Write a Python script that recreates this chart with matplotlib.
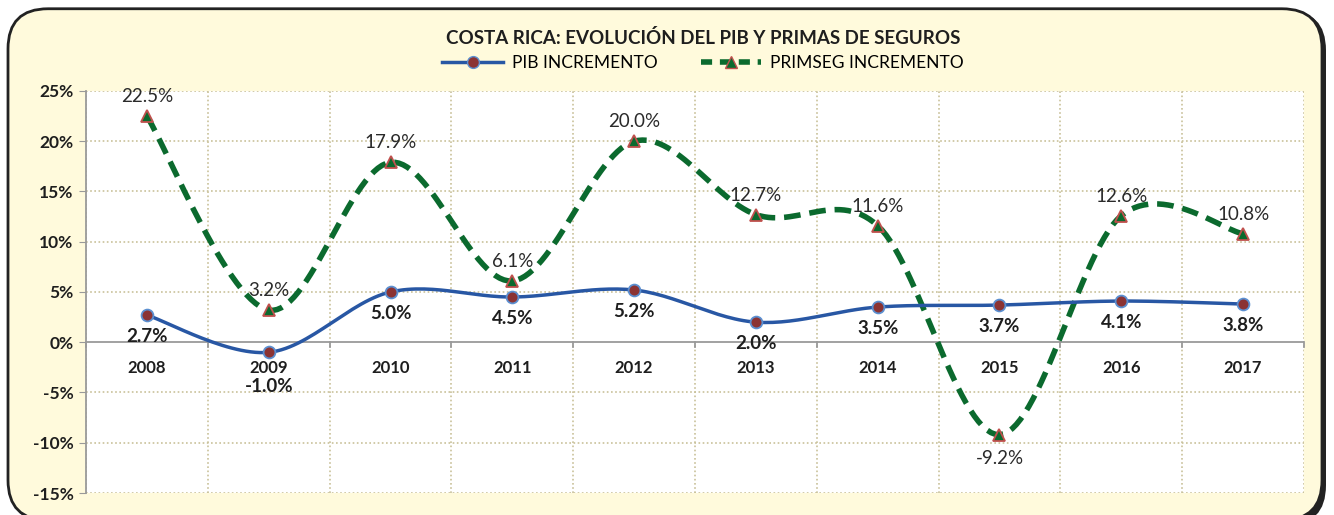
import matplotlib.pyplot as plt
import numpy as np
from matplotlib.patches import FancyBboxPatch
from matplotlib.lines import Line2D

years = ["2008", "2009", "2010", "2011", "2012", "2013", "2014", "2015", "2016", "2017"]
pib = [2.7, -1.0, 5.0, 4.5, 5.2, 2.0, 3.5, 3.7, 4.1, 3.8]
primseg = [22.5, 3.2, 17.9, 6.1, 20.0, 12.7, 11.6, -9.2, 12.6, 10.8]
yticks = [25, 20, 15, 10, 5, 0, -5, -10, -15]

BLUE = "#2857A4"
GREEN = "#0B6A2E"
GRID = "#C9C19A"
BG = "#FFFADC"


def smooth(x, y, n=30):
    # Excel-like smoothed line: cubic bezier with catmull-rom control points
    x = np.asarray(x, float)
    y = np.asarray(y, float)
    px = np.concatenate([[x[0]], x, [x[-1]]])
    py = np.concatenate([[y[0]], y, [y[-1]]])
    xs, ys = [], []
    t = np.linspace(0, 1, n)
    for i in range(1, len(x)):
        p0 = np.array([px[i], py[i]])
        p3 = np.array([px[i + 1], py[i + 1]])
        c1 = p0 + (np.array([px[i + 1], py[i + 1]]) - np.array([px[i - 1], py[i - 1]])) / 6
        c2 = p3 - (np.array([px[i + 2], py[i + 2]]) - np.array([px[i], py[i]])) / 6
        b = ((1 - t) ** 3)[:, None] * p0 + (3 * (1 - t) ** 2 * t)[:, None] * c1 \
            + (3 * (1 - t) * t ** 2)[:, None] * c2 + (t ** 3)[:, None] * p3
        xs.extend(b[:, 0])
        ys.extend(b[:, 1])
    return np.array(xs), np.array(ys)


plt.rcParams['font.family'] = ['Lato', 'DejaVu Sans']

fig = plt.figure(figsize=(13.34, 5.15), dpi=100)
fig.patch.set_facecolor("white")

# rounded frame with shadow
shadow = FancyBboxPatch((0.009, -0.02), 0.985, 1.0, boxstyle="round,pad=0,rounding_size=0.03",
                        transform=fig.transFigure, facecolor="#222222", edgecolor="none",
                        mutation_aspect=1334 / 515, zorder=-2)
frame = FancyBboxPatch((0.006, -0.01), 0.985, 0.993, boxstyle="round,pad=0,rounding_size=0.03",
                       transform=fig.transFigure, facecolor=BG, edgecolor="#222222", linewidth=2,
                       mutation_aspect=1334 / 515, zorder=-1)
fig.patches.extend([shadow, frame])

ax = fig.add_axes([86 / 1334, 1 - 493 / 515, (1304 - 86) / 1334, (493 - 91) / 515])
ax.set_zorder(2)
ax.set_facecolor("white")
x = np.arange(len(years))

ax.set_xlim(-0.5, len(years) - 0.5)
ax.set_ylim(-15, 25)
ax.set_yticks(yticks)
ax.set_yticklabels([f"{v}%" for v in yticks], fontsize=12.5, fontweight="bold", color="#1E1E1E")
ax.set_xticks(np.arange(-0.5, len(years), 1.0), minor=False)
ax.set_xticklabels([])
ax.tick_params(axis="x", length=0)
ax.tick_params(axis="y", length=5, color="#999999", pad=4)

for yv in yticks:
    if yv != 0:
        ax.axhline(yv, color=GRID, linestyle=(0, (1, 1.5)), linewidth=1.2, zorder=1)
for xv in np.arange(-0.5, len(years), 1.0):
    ax.axvline(xv, color=GRID, linestyle=(0, (1, 1.5)), linewidth=1.2, zorder=1)
ax.axhline(0, color="#9A9A9A", linewidth=1.3, zorder=2)
for xv in np.arange(-0.5, len(years), 1.0):
    ax.plot([xv, xv], [0, -0.5], color="#9A9A9A", linewidth=1.3, zorder=2, clip_on=False)
for s in ["top", "right", "bottom"]:
    ax.spines[s].set_visible(False)
ax.spines["left"].set_color("#9A9A9A")
ax.spines["left"].set_linewidth(1.3)

for i, yr in enumerate(years):
    ax.text(i, -2.4, yr, ha="center", va="center_baseline", fontsize=12, fontweight="bold", color="#1E1E1E")

sx, sy = smooth(x, pib)
ax.plot(sx, sy, color=BLUE, linewidth=2.5, zorder=4)
ax.plot(x, pib, linestyle="none", marker="o", markersize=8.5, markerfacecolor="#8B3333",
        markeredgecolor="#5B8FD0", markeredgewidth=1.3, zorder=5)

gx, gy = smooth(x, primseg)
ax.plot(gx, gy, color=GREEN, linewidth=4, linestyle=(0, (3, 1.6)), zorder=3)
ax.plot(x, primseg, linestyle="none", marker="^", markersize=9, markerfacecolor=GREEN,
        markeredgecolor="#C0504D", markeredgewidth=1.3, zorder=5)

for i, v in enumerate(pib):
    ty = v - 3.3 if v < 0 else v - 2.0
    ax.text(i, ty, f"{v:.1f}%", ha="center", va="center_baseline", fontsize=13.5, fontweight="bold",
            color="#1E1E1E", zorder=6)
for i, v in enumerate(primseg):
    ty = v - 2.2 if v < 0 else v + 2.1
    ax.text(i, ty, f"{v:.1f}%", ha="center", va="center_baseline", fontsize=13.5, color="#2A2A2A", zorder=6)

fig.text(0.527, 1 - 38 / 515, "COSTA RICA: EVOLUCIÓN DEL PIB Y PRIMAS DE SEGUROS", ha="center", va="center",
         fontsize=13.5, fontweight="bold", color="#1E1E1E")
handles = [
    Line2D([], [], color=BLUE, linewidth=2.5, marker="o", markersize=8.5, markerfacecolor="#8B3333",
           markeredgecolor="#5B8FD0"),
    Line2D([], [], color=GREEN, linewidth=4, linestyle=(0, (2, 1.4)), marker="^", markersize=8,
           markerfacecolor=GREEN, markeredgecolor="#C0504D"),
]
fig.legend(handles, ["PIB INCREMENTO", "PRIMSEG INCREMENTO"], loc="center", ncol=2,
           bbox_to_anchor=(0.527, 1 - 63 / 515), frameon=False, fontsize=12.5, handlelength=3.5,
           columnspacing=2.5, handletextpad=0.5)

fig.savefig("out.png", dpi=100, facecolor=fig.get_facecolor())
